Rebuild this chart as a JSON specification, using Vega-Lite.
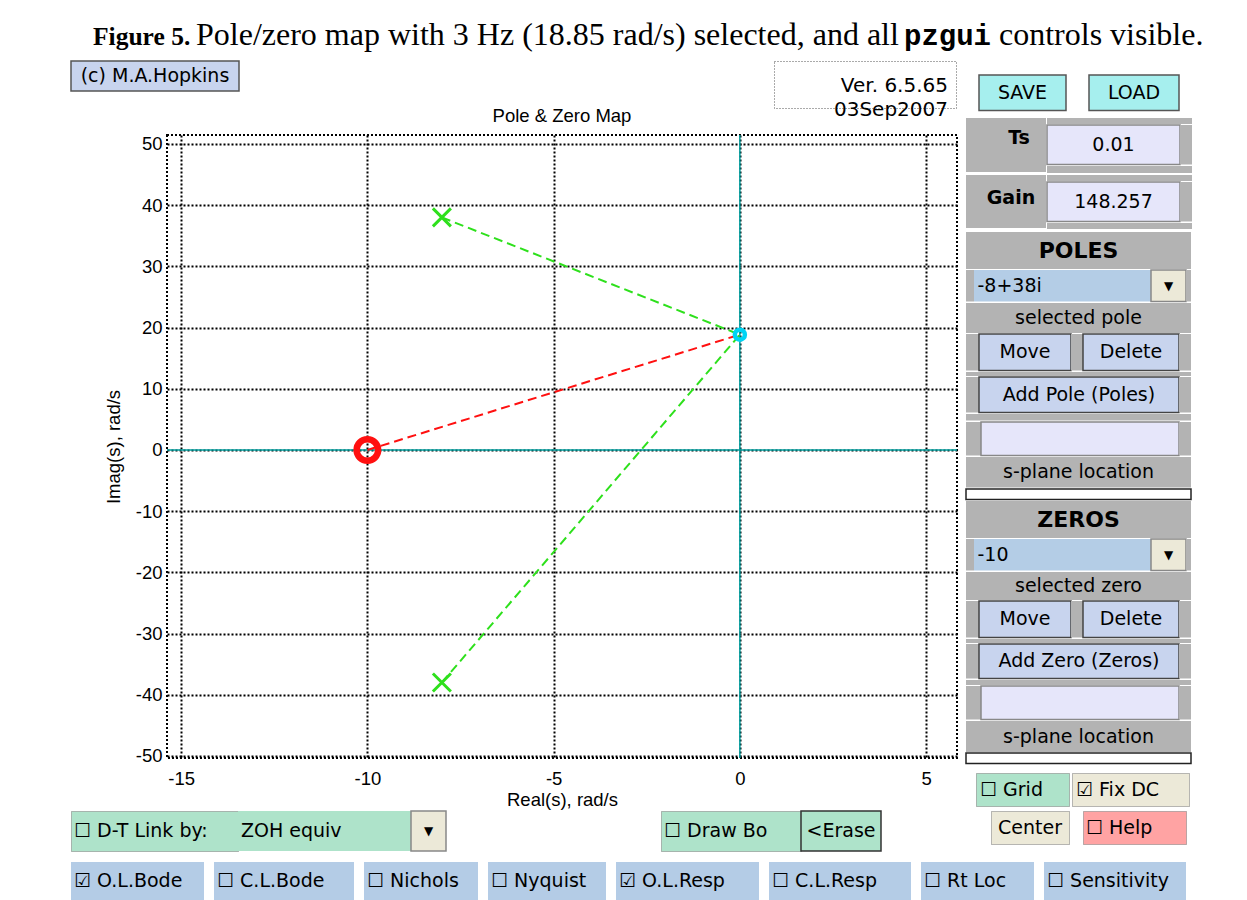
{
"$schema":"https://vega.github.io/schema/vega-lite/v6.json",
"background":"white",
"padding":{"left":70,"top":10,"right":0,"bottom":0},
"autosize":{"type":"pad"},
"config":{"view":{"stroke":null},"text":{"font":"DejaVu Sans","fontSize":19,"color":"black"}},
"datasets":{
 "roots":[{"kind":"pole","re":-8,"im":38},{"kind":"pole","re":-8,"im":-38},{"kind":"zero","re":-10,"im":0},{"kind":"freq","re":0,"im":18.85}],
 "vectors":[{"seg":"p1","kind":"pole","re":-8,"im":38},{"seg":"p1","kind":"pole","re":0,"im":18.85},{"seg":"p2","kind":"pole","re":-8,"im":-38},{"seg":"p2","kind":"pole","re":0,"im":18.85},{"seg":"z1","kind":"zero","re":-10,"im":0},{"seg":"z1","kind":"zero","re":0,"im":18.85}]
},
"vconcat":[
 {"hconcat":[
  {"width":22,"height":50,"view":{"fill":"white"},"data":{"values":[]},"mark":"text","encoding":{}},
  {"width":103,"height":50,"data":{"values":[{"t":"Figure 5."}]},"mark":{"type":"text","font":"Liberation Serif","fontSize":25.5,"fontWeight":"bold","align":"left","baseline":"alphabetic","dx":-51.5,"dy":10},"encoding":{"text":{"field":"t","type":"nominal"}}},
  {"width":708,"height":50,"data":{"values":[{"t":"Pole/zero map with 3 Hz (18.85 rad/s) selected, and all"}]},"mark":{"type":"text","font":"Liberation Serif","fontSize":32,"align":"left","baseline":"alphabetic","dx":-354,"dy":10},"encoding":{"text":{"field":"t","type":"nominal"}}},
  {"width":95,"height":50,"data":{"values":[{"t":"pzgui"}]},"mark":{"type":"text","font":"Liberation Mono","fontSize":29,"fontWeight":"bold","align":"left","baseline":"alphabetic","dx":-47.5,"dy":10},"encoding":{"text":{"field":"t","type":"nominal"}}},
  {"width":210,"height":50,"data":{"values":[{"t":"controls visible."}]},"mark":{"type":"text","font":"Liberation Serif","fontSize":32,"align":"left","baseline":"alphabetic","dx":-105,"dy":10},"encoding":{"text":{"field":"t","type":"nominal"}}}
 ],"spacing":0,"bounds":"flush"},
 {"hconcat":[
  {"vconcat":[
   {"hconcat":[
    {"width":168,"height":30,"view":{"fill":"#c8d4ee","stroke":"#555","strokeWidth":1.5},"data":{"values":[{"t":"(c) M.A.Hopkins"}]},"mark":{"type":"text","fontSize":19},"encoding":{"text":{"field":"t","type":"nominal"}}},
    {"width":535,"height":30,"data":{"values":[]},"mark":"text","encoding":{}},
    {"width":182,"height":47,"view":{"fill":"white","stroke":"#555","strokeWidth":1,"strokeDash":[1,2]},"data":{"values":[{"t":"Ver. 6.5.65|03Sep2007"}]},"mark":{"type":"text","fontSize":20,"align":"right","dx":83,"dy":1,"lineBreak":"|","lineHeight":24},"encoding":{"text":{"field":"t","type":"nominal"}}}
   ],"spacing":0,"bounds":"flush"},
   {"hconcat":[
    {"width":86,"height":623,"data":{"values":[]},"mark":"text","encoding":{}},
    {"width":790,"height":623,
     "title":{"text":"Pole & Zero Map","font":"Liberation Sans","fontSize":18.5,"fontWeight":"normal","color":"black","offset":9},
     "view":{"fill":"white","stroke":"black","strokeWidth":2,"strokeDash":[2,2]},
     "layer":[
      {"data":{"values":[{}]},"mark":{"type":"rule","color":"#009c9c","strokeWidth":1.5},"encoding":{"x":{"datum":0,"type":"quantitative","title":"Real(s), rad/s"}}},
      {"data":{"values":[{}]},"mark":{"type":"rule","color":"#009c9c","strokeWidth":1.5},"encoding":{"y":{"datum":0,"type":"quantitative","title":"Imag(s), rad/s"}}},
      {"data":{"name":"vectors"},"mark":{"type":"line","strokeDash":[9,5],"strokeWidth":2},
       "encoding":{
        "x":{"field":"re","type":"quantitative","title":"Real(s), rad/s","scale":{"domain":[-15.38,5.83],"nice":false,"zero":false},"axis":{"values":[-15,-10,-5,0,5],"labelExpr":"'' + datum.value","grid":true,"gridColor":"black","gridDash":[2,2],"gridWidth":2,"gridOpacity":1,"ticks":false,"domain":false,"labelFont":"Liberation Sans","labelFontSize":18.5,"labelColor":"black","labelPadding":11,"labelFlush":false,"titleFont":"Liberation Sans","titleFontSize":18.5,"titleFontWeight":"normal","titleColor":"black","titlePadding":3}},
        "y":{"field":"im","type":"quantitative","title":"Imag(s), rad/s","scale":{"domain":[-50.33,51.47],"nice":false,"zero":false},"axis":{"values":[-50,-40,-30,-20,-10,0,10,20,30,40,50],"labelExpr":"'' + datum.value","grid":true,"gridColor":"black","gridDash":[2,2],"gridWidth":2,"gridOpacity":1,"ticks":false,"domain":false,"labelFont":"Liberation Sans","labelFontSize":18.5,"labelColor":"black","labelPadding":5,"titleFont":"Liberation Sans","titleFontSize":18.5,"titleFontWeight":"normal","titleColor":"black","titlePadding":12}},
        "detail":{"field":"seg","type":"nominal"},
        "color":{"field":"kind","type":"nominal","scale":{"domain":["pole","zero","freq"],"range":["#2ee01c","#ff1010","#00d4f4"]},"legend":null}}},
      {"data":{"name":"roots"},"transform":[{"filter":"datum.kind == 'pole'"}],"mark":{"type":"point","shape":"M-1,-1L1,1M-1,1L1,-1","filled":false,"size":324,"strokeWidth":3,"opacity":1},
       "encoding":{"x":{"field":"re","type":"quantitative","title":"Real(s), rad/s"},"y":{"field":"im","type":"quantitative","title":"Imag(s), rad/s"},"color":{"field":"kind","type":"nominal","scale":{"domain":["pole","zero","freq"],"range":["#2ee01c","#ff1010","#00d4f4"]},"legend":null}}},
      {"data":{"name":"roots"},"transform":[{"filter":"datum.kind == 'zero'"}],"mark":{"type":"point","shape":"circle","filled":false,"size":462,"strokeWidth":6.5,"opacity":1},
       "encoding":{"x":{"field":"re","type":"quantitative","title":"Real(s), rad/s"},"y":{"field":"im","type":"quantitative","title":"Imag(s), rad/s"},"color":{"field":"kind","type":"nominal","scale":{"domain":["pole","zero","freq"],"range":["#2ee01c","#ff1010","#00d4f4"]},"legend":null}}},
      {"data":{"name":"roots"},"transform":[{"filter":"datum.kind == 'freq'"}],"mark":{"type":"point","shape":"circle","filled":false,"size":100,"strokeWidth":4.5,"opacity":1},
       "encoding":{"x":{"field":"re","type":"quantitative","title":"Real(s), rad/s"},"y":{"field":"im","type":"quantitative","title":"Imag(s), rad/s"},"color":{"field":"kind","type":"nominal","scale":{"domain":["pole","zero","freq"],"range":["#2ee01c","#ff1010","#00d4f4"]},"legend":null}}}
     ]}
   ],"spacing":10,"bounds":"flush"}
  ],"spacing":-15,"bounds":"full"},
  {"vconcat":[
   {"width":225,"height":13,"data":{"values":[]},"mark":"text","encoding":{}},
   {"hconcat":[
    {"width":13,"height":35.5,"data":{"values":[]},"mark":"text","encoding":{}},
    {"width":87,"height":35.5,"view":{"fill":"#a6efee","stroke":"#555","strokeWidth":1.5},"data":{"values":[{"t":"SAVE"}]},"mark":"text","encoding":{"text":{"field":"t","type":"nominal"}}},
    {"width":23,"height":35.5,"data":{"values":[]},"mark":"text","encoding":{}},
    {"width":90,"height":35.5,"view":{"fill":"#a6efee","stroke":"#555","strokeWidth":1.5},"data":{"values":[{"t":"LOAD"}]},"mark":"text","encoding":{"text":{"field":"t","type":"nominal"}}}
   ],"spacing":0,"bounds":"flush"},
   {"width":225,"height":6,"data":{"values":[]},"mark":"text","encoding":{}},
   {"hconcat":[
    {"width":80,"height":54,"view":{"fill":"#b3b3b3"},"data":{"values":[{"t":"Ts"}]},"mark":{"type":"text","fontWeight":"bold","dx":13,"dy":-7},"encoding":{"text":{"field":"t","type":"nominal"}}},
    {"vconcat":[
     {"width":145,"height":6,"view":{"fill":"#b3b3b3"},"data":{"values":[]},"mark":"text","encoding":{}},
     {"hconcat":[
      {"width":133,"height":39.5,"view":{"fill":"#e6e6fa","stroke":"#888","strokeWidth":1.5},"data":{"values":[{"t":"0.01"}]},"mark":"text","encoding":{"text":{"field":"t","type":"nominal"}}},
      {"width":12,"height":39.5,"view":{"fill":"#b3b3b3"},"data":{"values":[]},"mark":"text","encoding":{}}
     ],"spacing":0,"bounds":"flush"},
     {"width":145,"height":7,"view":{"fill":"#b3b3b3"},"data":{"values":[]},"mark":"text","encoding":{}}
    ],"spacing":0,"bounds":"full"}
   ],"spacing":0,"bounds":"full"},
   {"width":225,"height":2,"data":{"values":[]},"mark":"text","encoding":{}},
   {"hconcat":[
    {"width":80,"height":53,"view":{"fill":"#b3b3b3"},"data":{"values":[{"t":"Gain"}]},"mark":{"type":"text","fontWeight":"bold","dx":5,"dy":-4},"encoding":{"text":{"field":"t","type":"nominal"}}},
    {"vconcat":[
     {"width":145,"height":6,"view":{"fill":"#b3b3b3"},"data":{"values":[]},"mark":"text","encoding":{}},
     {"hconcat":[
      {"width":133,"height":39.5,"view":{"fill":"#e6e6fa","stroke":"#888","strokeWidth":1.5},"data":{"values":[{"t":"148.257"}]},"mark":"text","encoding":{"text":{"field":"t","type":"nominal"}}},
      {"width":12,"height":39.5,"view":{"fill":"#b3b3b3"},"data":{"values":[]},"mark":"text","encoding":{}}
     ],"spacing":0,"bounds":"flush"},
     {"width":145,"height":6,"view":{"fill":"#b3b3b3"},"data":{"values":[]},"mark":"text","encoding":{}}
    ],"spacing":0,"bounds":"full"}
   ],"spacing":0,"bounds":"full"},
   {"width":225,"height":3,"data":{"values":[]},"mark":"text","encoding":{}},
   {"vconcat":[
    {"width":225,"height":37,"view":{"fill":"#b3b3b3"},"data":{"values":[{"t":"POLES"}]},"mark":{"type":"text","fontWeight":"bold","fontSize":22},"encoding":{"text":{"field":"t","type":"nominal"}}},
    {"hconcat":[
     {"width":8,"height":31.5,"view":{"fill":"#b3b3b3"},"data":{"values":[]},"mark":"text","encoding":{}},
     {"width":177,"height":31.5,"view":{"fill":"#b4cde6"},"data":{"values":[{"t":"-8+38i"}]},"mark":{"type":"text","align":"left","dx":-85},"encoding":{"text":{"field":"t","type":"nominal"}}},
     {"width":35,"height":31.5,"view":{"fill":"#ece9d8","stroke":"#888","strokeWidth":1.5},"data":{"values":[{"t":"▼"}]},"mark":{"type":"text","fontSize":12},"encoding":{"text":{"field":"t","type":"nominal"}}},
     {"width":5,"height":31.5,"view":{"fill":"#b3b3b3"},"data":{"values":[]},"mark":"text","encoding":{}}
    ],"spacing":0,"bounds":"flush"},
    {"width":225,"height":30,"view":{"fill":"#b3b3b3"},"data":{"values":[{"t":"selected pole"}]},"mark":"text","encoding":{"text":{"field":"t","type":"nominal"}}},
    {"hconcat":[
     {"width":13,"height":36.5,"view":{"fill":"#b3b3b3"},"data":{"values":[]},"mark":"text","encoding":{}},
     {"width":92,"height":36.5,"view":{"fill":"#c8d4ee","stroke":"#444","strokeWidth":1.5},"data":{"values":[{"t":"Move"}]},"mark":"text","encoding":{"text":{"field":"t","type":"nominal"}}},
     {"width":12,"height":36.5,"view":{"fill":"#b3b3b3"},"data":{"values":[]},"mark":"text","encoding":{}},
     {"width":96,"height":36.5,"view":{"fill":"#c8d4ee","stroke":"#444","strokeWidth":1.5},"data":{"values":[{"t":"Delete"}]},"mark":"text","encoding":{"text":{"field":"t","type":"nominal"}}},
     {"width":12,"height":36.5,"view":{"fill":"#b3b3b3"},"data":{"values":[]},"mark":"text","encoding":{}}
    ],"spacing":0,"bounds":"flush"},
    {"width":225,"height":4,"view":{"fill":"#b3b3b3"},"data":{"values":[]},"mark":"text","encoding":{}},
    {"hconcat":[
     {"width":13,"height":35.5,"view":{"fill":"#b3b3b3"},"data":{"values":[]},"mark":"text","encoding":{}},
     {"width":200,"height":35.5,"view":{"fill":"#c8d4ee","stroke":"#444","strokeWidth":1.5},"data":{"values":[{"t":"Add Pole (Poles)"}]},"mark":"text","encoding":{"text":{"field":"t","type":"nominal"}}},
     {"width":12,"height":35.5,"view":{"fill":"#b3b3b3"},"data":{"values":[]},"mark":"text","encoding":{}}
    ],"spacing":0,"bounds":"flush"},
    {"width":225,"height":6.5,"view":{"fill":"#b3b3b3"},"data":{"values":[]},"mark":"text","encoding":{}},
    {"hconcat":[
     {"width":15,"height":33.5,"view":{"fill":"#b3b3b3"},"data":{"values":[]},"mark":"text","encoding":{}},
     {"width":198,"height":33.5,"view":{"fill":"#e6e6fa","stroke":"#888","strokeWidth":1.5},"data":{"values":[]},"mark":"text","encoding":{}},
     {"width":12,"height":33.5,"view":{"fill":"#b3b3b3"},"data":{"values":[]},"mark":"text","encoding":{}}
    ],"spacing":0,"bounds":"flush"},
    {"width":225,"height":30.5,"view":{"fill":"#b3b3b3"},"data":{"values":[{"t":"s-plane location"}]},"mark":"text","encoding":{"text":{"field":"t","type":"nominal"}}}
   ],"spacing":0,"bounds":"full"},
   {"width":225,"height":10.5,"view":{"fill":"white","stroke":"#222","strokeWidth":1.5},"data":{"values":[]},"mark":"text","encoding":{}},
   {"vconcat":[
    {"width":225,"height":37,"view":{"fill":"#b3b3b3"},"data":{"values":[{"t":"ZEROS"}]},"mark":{"type":"text","fontWeight":"bold","fontSize":22},"encoding":{"text":{"field":"t","type":"nominal"}}},
    {"hconcat":[
     {"width":8,"height":31.5,"view":{"fill":"#b3b3b3"},"data":{"values":[]},"mark":"text","encoding":{}},
     {"width":177,"height":31.5,"view":{"fill":"#b4cde6"},"data":{"values":[{"t":"-10"}]},"mark":{"type":"text","align":"left","dx":-85},"encoding":{"text":{"field":"t","type":"nominal"}}},
     {"width":35,"height":31.5,"view":{"fill":"#ece9d8","stroke":"#888","strokeWidth":1.5},"data":{"values":[{"t":"▼"}]},"mark":{"type":"text","fontSize":12},"encoding":{"text":{"field":"t","type":"nominal"}}},
     {"width":5,"height":31.5,"view":{"fill":"#b3b3b3"},"data":{"values":[]},"mark":"text","encoding":{}}
    ],"spacing":0,"bounds":"flush"},
    {"width":225,"height":28,"view":{"fill":"#b3b3b3"},"data":{"values":[{"t":"selected zero"}]},"mark":"text","encoding":{"text":{"field":"t","type":"nominal"}}},
    {"hconcat":[
     {"width":13,"height":36.5,"view":{"fill":"#b3b3b3"},"data":{"values":[]},"mark":"text","encoding":{}},
     {"width":92,"height":36.5,"view":{"fill":"#c8d4ee","stroke":"#444","strokeWidth":1.5},"data":{"values":[{"t":"Move"}]},"mark":"text","encoding":{"text":{"field":"t","type":"nominal"}}},
     {"width":12,"height":36.5,"view":{"fill":"#b3b3b3"},"data":{"values":[]},"mark":"text","encoding":{}},
     {"width":96,"height":36.5,"view":{"fill":"#c8d4ee","stroke":"#444","strokeWidth":1.5},"data":{"values":[{"t":"Delete"}]},"mark":"text","encoding":{"text":{"field":"t","type":"nominal"}}},
     {"width":12,"height":36.5,"view":{"fill":"#b3b3b3"},"data":{"values":[]},"mark":"text","encoding":{}}
    ],"spacing":0,"bounds":"flush"},
    {"width":225,"height":4,"view":{"fill":"#b3b3b3"},"data":{"values":[]},"mark":"text","encoding":{}},
    {"hconcat":[
     {"width":13,"height":34.5,"view":{"fill":"#b3b3b3"},"data":{"values":[]},"mark":"text","encoding":{}},
     {"width":200,"height":34.5,"view":{"fill":"#c8d4ee","stroke":"#444","strokeWidth":1.5},"data":{"values":[{"t":"Add Zero (Zeros)"}]},"mark":"text","encoding":{"text":{"field":"t","type":"nominal"}}},
     {"width":12,"height":34.5,"view":{"fill":"#b3b3b3"},"data":{"values":[]},"mark":"text","encoding":{}}
    ],"spacing":0,"bounds":"flush"},
    {"width":225,"height":5,"view":{"fill":"#b3b3b3"},"data":{"values":[]},"mark":"text","encoding":{}},
    {"hconcat":[
     {"width":15,"height":33.5,"view":{"fill":"#b3b3b3"},"data":{"values":[]},"mark":"text","encoding":{}},
     {"width":198,"height":33.5,"view":{"fill":"#e6e6fa","stroke":"#888","strokeWidth":1.5},"data":{"values":[]},"mark":"text","encoding":{}},
     {"width":12,"height":33.5,"view":{"fill":"#b3b3b3"},"data":{"values":[]},"mark":"text","encoding":{}}
    ],"spacing":0,"bounds":"flush"},
    {"width":225,"height":31,"view":{"fill":"#b3b3b3"},"data":{"values":[{"t":"s-plane location"}]},"mark":"text","encoding":{"text":{"field":"t","type":"nominal"}}}
   ],"spacing":0,"bounds":"full"},
   {"width":225,"height":10.5,"view":{"fill":"white","stroke":"#222","strokeWidth":1.5},"data":{"values":[]},"mark":"text","encoding":{}},
   {"width":225,"height":7,"data":{"values":[]},"mark":"text","encoding":{}},
   {"hconcat":[
    {"width":10,"height":33,"data":{"values":[]},"mark":"text","encoding":{}},
    {"width":93,"height":33,"view":{"fill":"#aee3ca","stroke":"#777","strokeWidth":1,"strokeDash":[1,1]},"data":{"values":[{"t":"☐  Grid"}]},"mark":{"type":"text","align":"left","dx":-42.5},"encoding":{"text":{"field":"t","type":"nominal"}}},
    {"width":3,"height":33,"data":{"values":[]},"mark":"text","encoding":{}},
    {"width":117,"height":33,"view":{"fill":"#ece9d8","stroke":"#777","strokeWidth":1,"strokeDash":[1,1]},"data":{"values":[{"t":"☑  Fix DC"}]},"mark":{"type":"text","align":"left","dx":-54.5},"encoding":{"text":{"field":"t","type":"nominal"}}}
   ],"spacing":0,"bounds":"flush"}
  ],"spacing":0,"bounds":"full"}
 ],"spacing":6,"bounds":"full"},
 {"vconcat":[
  {"hconcat":[
   {"width":167,"height":40,"view":{"fill":"#aee3ca","stroke":"#777","strokeWidth":1,"strokeDash":[1,1]},"data":{"values":[{"t":"☐  D-T Link by:"}]},"mark":{"type":"text","align":"left","dx":-80.5},"encoding":{"text":{"field":"t","type":"nominal"}}},
   {"width":173,"height":40,"view":{"fill":"#aee3ca"},"data":{"values":[{"t":"ZOH equiv"}]},"mark":{"type":"text","align":"left","dx":-83.5},"encoding":{"text":{"field":"t","type":"nominal"}}},
   {"width":35,"height":40,"view":{"fill":"#ece9d8","stroke":"#888","strokeWidth":1.5},"data":{"values":[{"t":"▼"}]},"mark":{"type":"text","fontSize":12},"encoding":{"text":{"field":"t","type":"nominal"}}},
   {"width":215,"height":40,"data":{"values":[]},"mark":"text","encoding":{}},
   {"width":140,"height":40,"view":{"fill":"#aee3ca","stroke":"#777","strokeWidth":1,"strokeDash":[1,1]},"data":{"values":[{"t":"☐  Draw Bo"}]},"mark":{"type":"text","align":"left","dx":-67},"encoding":{"text":{"field":"t","type":"nominal"}}},
   {"width":80,"height":40,"view":{"fill":"#aee3ca","stroke":"#333","strokeWidth":1.5},"data":{"values":[{"t":"<Erase"}]},"mark":"text","encoding":{"text":{"field":"t","type":"nominal"}}},
   {"width":110,"height":40,"data":{"values":[]},"mark":"text","encoding":{}},
   {"width":78,"height":33,"view":{"fill":"#ece9d8","stroke":"#777","strokeWidth":1,"strokeDash":[1,1]},"data":{"values":[{"t":"Center"}]},"mark":"text","encoding":{"text":{"field":"t","type":"nominal"}}},
   {"width":14,"height":33,"data":{"values":[]},"mark":"text","encoding":{}},
   {"width":103,"height":33,"view":{"fill":"#ffa3a3","stroke":"#777","strokeWidth":1,"strokeDash":[1,1]},"data":{"values":[{"t":"☐  Help"}]},"mark":{"type":"text","align":"left","dx":-48.5},"encoding":{"text":{"field":"t","type":"nominal"}}}
  ],"spacing":0,"bounds":"flush"},
  {"hconcat":[
   {"width":133,"height":38,"view":{"fill":"#b4cce6"},"data":{"values":[{"t":"☑  O.L.Bode"}]},"mark":{"type":"text","align":"left","dx":-63.5},"encoding":{"text":{"field":"t","type":"nominal"}}},
   {"width":140,"height":38,"view":{"fill":"#b4cce6"},"data":{"values":[{"t":"☐  C.L.Bode"}]},"mark":{"type":"text","align":"left","dx":-67},"encoding":{"text":{"field":"t","type":"nominal"}}},
   {"width":114,"height":38,"view":{"fill":"#b4cce6"},"data":{"values":[{"t":"☐  Nichols"}]},"mark":{"type":"text","align":"left","dx":-54},"encoding":{"text":{"field":"t","type":"nominal"}}},
   {"width":118,"height":38,"view":{"fill":"#b4cce6"},"data":{"values":[{"t":"☐  Nyquist"}]},"mark":{"type":"text","align":"left","dx":-56},"encoding":{"text":{"field":"t","type":"nominal"}}},
   {"width":143,"height":38,"view":{"fill":"#b4cce6"},"data":{"values":[{"t":"☑  O.L.Resp"}]},"mark":{"type":"text","align":"left","dx":-68.5},"encoding":{"text":{"field":"t","type":"nominal"}}},
   {"width":142,"height":38,"view":{"fill":"#b4cce6"},"data":{"values":[{"t":"☐  C.L.Resp"}]},"mark":{"type":"text","align":"left","dx":-68},"encoding":{"text":{"field":"t","type":"nominal"}}},
   {"width":113,"height":38,"view":{"fill":"#b4cce6"},"data":{"values":[{"t":"☐  Rt Loc"}]},"mark":{"type":"text","align":"left","dx":-53.5},"encoding":{"text":{"field":"t","type":"nominal"}}},
   {"width":142,"height":38,"view":{"fill":"#b4cce6"},"data":{"values":[{"t":"☐  Sensitivity"}]},"mark":{"type":"text","align":"left","dx":-68},"encoding":{"text":{"field":"t","type":"nominal"}}}
  ],"spacing":10,"bounds":"flush"}
 ],"spacing":10,"bounds":"full"}
],
"spacing":0,
"bounds":"full"
}
